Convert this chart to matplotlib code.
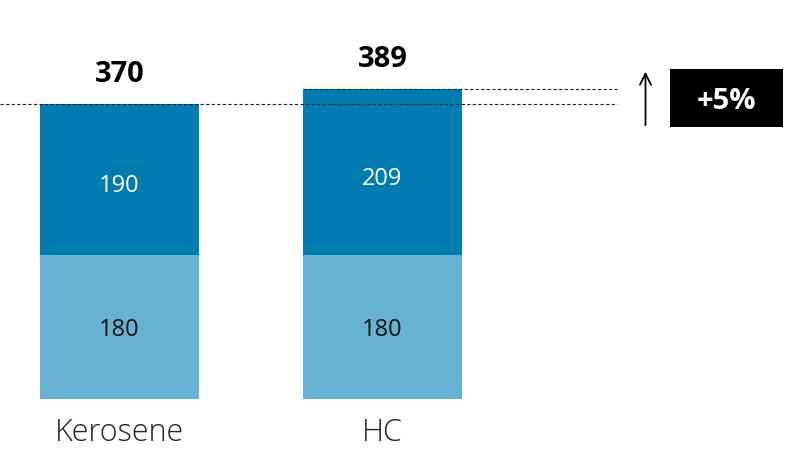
import matplotlib.pyplot as plt
from matplotlib.patches import Rectangle
import numpy as np

plt.rcParams['font.family'] = ['Open Sans', 'DejaVu Sans']

categories = ['Kerosene', 'HC']
base_values = [180, 180]
upper_values = [190, 209]
totals = [b + u for b, u in zip(base_values, upper_values)]
change_label = '+5%'

light_blue = '#67b1d1'
dark_blue = '#007cb0'

fig = plt.figure(figsize=(8.04, 4.49), dpi=100)
ax = fig.add_axes([0, 0, 1, 1])
ax.set_xlim(-0.4544, 2.6027)
ax.set_ylim(-62.7, 500.4)
ax.axis('off')

x = np.arange(len(categories))
width = 0.6046
ax.bar(x, base_values, width, color=light_blue)
ax.bar(x, upper_values, width, bottom=base_values, color=dark_blue)

for i in range(len(categories)):
    ax.text(x[i], base_values[i] / 2, str(base_values[i]), ha='center', va='center_baseline',
            fontsize=17, color='#111111')
    ax.annotate(str(upper_values[i]), (x[i], base_values[i] + upper_values[i] / 2),
                xytext=(0, -2.5), textcoords='offset points',
                ha='center', va='center_baseline', fontsize=17, color='white')
    ax.annotate(str(totals[i]), (x[i], totals[i]), xytext=(0, 23.5), textcoords='offset points',
                ha='center', va='center_baseline', fontsize=21, fontweight='bold', color='black')
    ax.text(x[i], -38, categories[i], ha='center', va='center_baseline', fontsize=22,
            color='#222222', fontweight='light')

# dashed reference lines at both totals
line_end = 1.892
ax.plot([-0.4544, line_end], [totals[0], totals[0]], ls=(0, (3, 2)), color='#222222', lw=0.8)
ax.plot([x[1] - width / 2, line_end], [totals[1], totals[1]], ls=(0, (3, 2)), color='#222222', lw=0.8)

# arrow and change box
ax.annotate('', xy=(2.0, 414), xytext=(2.0, 340),
            arrowprops=dict(arrowstyle='->', color='black', lw=1.3, mutation_scale=20))
ax.add_patch(Rectangle((2.093, 341), 0.43, 73, facecolor='black', edgecolor='none'))
ax.text(2.308, 377, change_label, ha='center', va='center_baseline', fontsize=21,
        fontweight='bold', color='white')

fig.savefig('out.png', dpi=100)
